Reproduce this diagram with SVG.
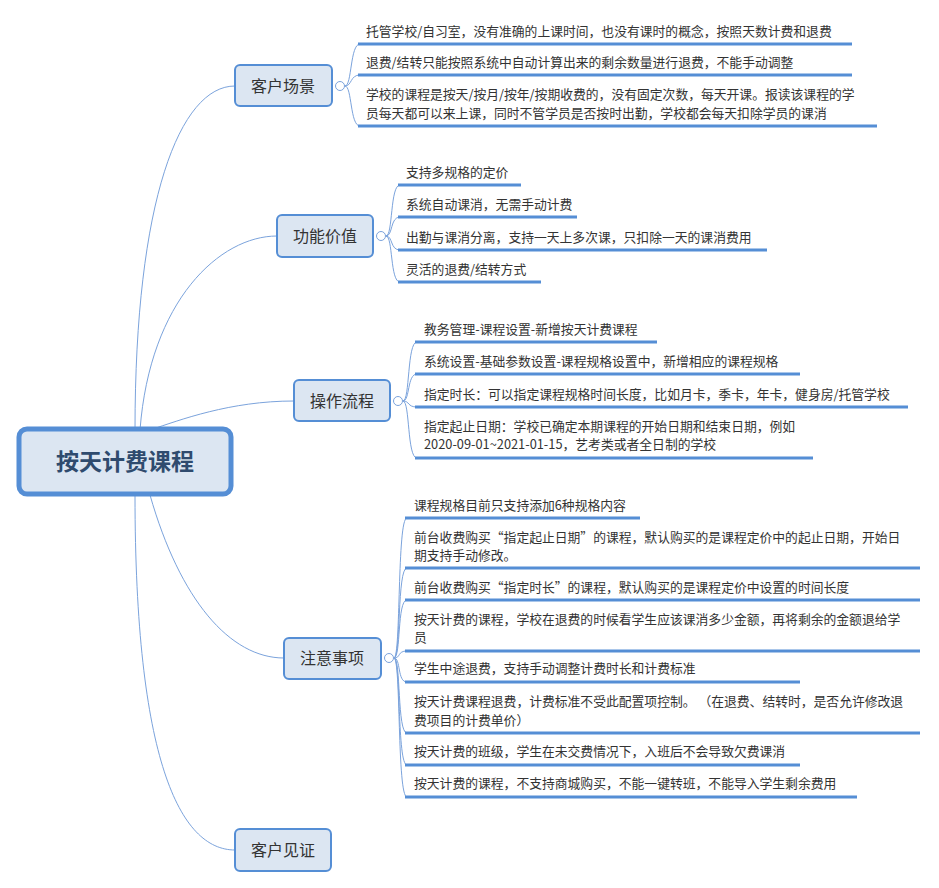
<svg xmlns="http://www.w3.org/2000/svg" width="939" height="888" viewBox="0 0 939 888">
<style>
text{font-family:"Noto Sans CJK SC","Liberation Sans",sans-serif;fill:#333}
.leaf{font-size:12.8px}
.br rect{fill:#dce6f2;stroke:#558ed5;stroke-width:2}
.br text{font-size:16px;text-anchor:middle;fill:#333}
.ul{stroke:#558ed5;stroke-width:3}
.c{fill:none;stroke:#7ba3dc;stroke-width:1}
.knob{fill:#fff;stroke:#7ba3dc;stroke-width:1}
</style>
<rect width="939" height="888" fill="#fff"/>
<g id="connectors">
<path class="c" d="M135,430 C135,200 180,86 235,86"/>
<path class="c" d="M140,430 C150,300 220,236 277,236"/>
<path class="c" d="M150,430 C180,420 230,401 294,401"/>
<path class="c" d="M150,495 C180,600 230,658 284,658"/>
<path class="c" d="M135,495 C135,760 180,850 235,850"/>
<path class="c" d="M345,86 C352,86 350,44 360,44 M345,86 C352,86 350,75 360,75 M345,86 C352,86 350,126 360,126"/>
<path class="c" d="M386,236 C393,236 390,185 400,185 M386,236 C393,236 390,217 400,217 M386,236 C393,236 390,250 400,250 M386,236 C393,236 390,282 400,282"/>
<path class="c" d="M403,401 C410,401 407,342 417,342 M403,401 C410,401 407,374 417,374 M403,401 C410,401 407,407 417,407 M403,401 C410,401 407,458 417,458"/>
<path class="c" d="M394,658 C401,658 397,518 407,518 M394,658 C401,658 397,568 407,568 M394,658 C401,658 397,600 407,600 M394,658 C401,658 397,651 407,651 M394,658 C401,658 397,682 407,682 M394,658 C401,658 397,733 407,733 M394,658 C401,658 397,765 407,765 M394,658 C401,658 397,797 407,797"/>
</g>
<g id="root">
<rect x="19" y="429" width="212" height="65" rx="8" fill="#dce6f2" stroke="#558ed5" stroke-width="5"/>
<text x="125" y="470" font-size="23" font-weight="bold" text-anchor="middle" style="fill:#2f4b6e">按天计费课程</text>
</g>
<g id="n1" class="br"><rect x="235" y="65" width="97" height="41" rx="5"/><text x="283" y="92">客户场景</text><circle class="knob" cx="340" cy="86" r="4.5"/></g>
<g id="n2" class="br"><rect x="277" y="215" width="96" height="42" rx="5"/><text x="325" y="242">功能价值</text><circle class="knob" cx="381" cy="236" r="4.5"/></g>
<g id="n3" class="br"><rect x="294" y="380" width="96" height="41" rx="5"/><text x="342" y="407">操作流程</text><circle class="knob" cx="398" cy="401" r="4.5"/></g>
<g id="n4" class="br"><rect x="284" y="638" width="97" height="41" rx="5"/><text x="332" y="664">注意事项</text><circle class="knob" cx="389" cy="658" r="4.5"/></g>
<g id="n5" class="br"><rect x="235" y="829" width="96" height="42" rx="5"/><text x="283" y="856">客户见证</text></g>
<g id="leaves1" class="leaf">
<text x="366" y="36">托管学校/自习室，没有准确的上课时间，也没有课时的概念，按照天数计费和退费</text><line class="ul" x1="358" y1="44" x2="852" y2="44"/>
<text x="366" y="67">退费/结转只能按照系统中自动计算出来的剩余数量进行退费，不能手动调整</text><line class="ul" x1="358" y1="75" x2="852" y2="75"/>
<text x="366" y="99">学校的课程是按天/按月/按年/按期收费的，没有固定次数，每天开课。报读该课程的学</text><text x="366" y="118">员每天都可以来上课，同时不管学员是否按时出勤，学校都会每天扣除学员的课消</text><line class="ul" x1="358" y1="126" x2="877" y2="126"/>
</g>
<g id="leaves2" class="leaf">
<text x="406" y="177">支持多规格的定价</text><line class="ul" x1="398" y1="185" x2="521" y2="185"/>
<text x="406" y="209">系统自动课消，无需手动计费</text><line class="ul" x1="398" y1="217" x2="577" y2="217"/>
<text x="406" y="242">出勤与课消分离，支持一天上多次课，只扣除一天的课消费用</text><line class="ul" x1="398" y1="250" x2="767" y2="250"/>
<text x="406" y="274">灵活的退费/结转方式</text><line class="ul" x1="398" y1="282" x2="541" y2="282"/>
</g>
<g id="leaves3" class="leaf">
<text x="424" y="334">教务管理-课程设置-新增按天计费课程</text><line class="ul" x1="415" y1="342" x2="657" y2="342"/>
<text x="424" y="366">系统设置-基础参数设置-课程规格设置中，新增相应的课程规格</text><line class="ul" x1="415" y1="374" x2="800" y2="374"/>
<text x="424" y="399">指定时长：可以指定课程规格时间长度，比如月卡，季卡，年卡，健身房/托管学校</text><line class="ul" x1="415" y1="407" x2="908" y2="407"/>
<text x="424" y="431">指定起止日期：学校已确定本期课程的开始日期和结束日期，例如</text><text x="424" y="449">2020-09-01~2021-01-15，艺考类或者全日制的学校</text><line class="ul" x1="415" y1="458" x2="813" y2="458"/>
</g>
<g id="leaves4" class="leaf">
<text x="414" y="510">课程规格目前只支持添加6种规格内容</text><line class="ul" x1="405" y1="518" x2="640" y2="518"/>
<text x="414" y="542">前台收费购买“指定起止日期”的课程，默认购买的是课程定价中的起止日期，开始日</text><text x="414" y="560">期支持手动修改。</text><line class="ul" x1="405" y1="568" x2="920" y2="568"/>
<text x="414" y="592">前台收费购买“指定时长”的课程，默认购买的是课程定价中设置的时间长度</text><line class="ul" x1="405" y1="600" x2="920" y2="600"/>
<text x="414" y="624">按天计费的课程，学校在退费的时候看学生应该课消多少金额，再将剩余的金额退给学</text><text x="414" y="642">员</text><line class="ul" x1="405" y1="651" x2="920" y2="651"/>
<text x="414" y="673">学生中途退费，支持手动调整计费时长和计费标准</text><line class="ul" x1="405" y1="682" x2="800" y2="682"/>
<text x="414" y="706">按天计费课程退费，计费标准不受此配置项控制。 （在退费、结转时，是否允许修改退</text><text x="414" y="725">费项目的计费单价）</text><line class="ul" x1="405" y1="733" x2="920" y2="733"/>
<text x="414" y="756">按天计费的班级，学生在未交费情况下，入班后不会导致欠费课消</text><line class="ul" x1="405" y1="765" x2="800" y2="765"/>
<text x="414" y="788">按天计费的课程，不支持商城购买，不能一键转班，不能导入学生剩余费用</text><line class="ul" x1="405" y1="797" x2="857" y2="797"/>
</g>
</svg>
